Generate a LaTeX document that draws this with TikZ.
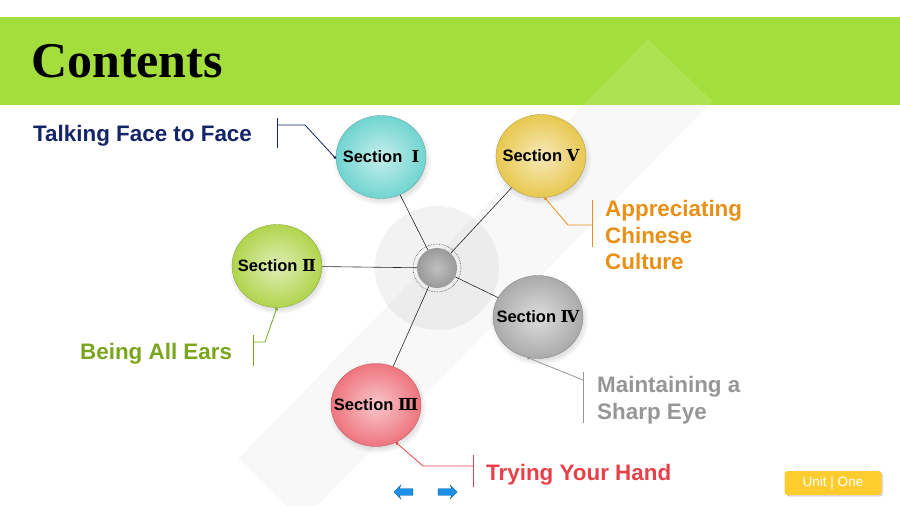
\documentclass[tikz,border=0pt]{standalone}
\usepackage{fontspec}
\setmainfont{Liberation Sans}
\newfontfamily\titulofont{Liberation Serif}
\newfontfamily\romanofont{DejaVu Serif}
\usetikzlibrary{positioning,arrows.meta,shapes.geometric,shapes.arrows,shadows}
\definecolor{verdebarra}{RGB}{164,222,60}
\definecolor{marino}{RGB}{20,36,104}
\definecolor{oliva}{RGB}{122,166,30}
\definecolor{naranja}{RGB}{232,144,22}
\definecolor{gristexto}{RGB}{150,150,150}
\definecolor{rojo}{RGB}{232,64,72}
\definecolor{turquesa}{RGB}{112,212,208}
\definecolor{oro}{RGB}{232,200,80}
\definecolor{lima}{RGB}{176,212,76}
\definecolor{plata}{RGB}{170,170,170}
\definecolor{rosa}{RGB}{238,116,126}
\definecolor{amarillo}{RGB}{255,204,48}
\definecolor{azul}{RGB}{28,144,230}
\newcommand{\rotulo}[1]{\makebox[0pt]{Section #1}}

\begin{document}
\begin{tikzpicture}[x=1pt, y=-1pt,
  seccion/.style={ellipse, draw=#1!75!black, line width=0.3pt,
    shading=radial, inner color=#1!40!white, outer color=#1,
    minimum width=90pt, minimum height=83pt, inner sep=0pt,
    font=\bfseries\fontsize{16.5}{16.5}\selectfont,
    circular drop shadow={shadow xshift=1pt, shadow yshift=-2.5pt, opacity=0.25}},
  etiqueta/.style={anchor=west, inner sep=0pt, align=left, text=#1,
    font=\bfseries\fontsize{22.4}{26.5}\selectfont},
  guia/.style={draw=#1, line width=0.8pt},
  radio/.style={draw=black!85, line width=0.6pt},
  flechita/.style={single arrow, fill=azul, draw=azul!70!black, line width=0.3pt,
    minimum height=19pt, minimum width=14pt, single arrow head extend=3pt,
    single arrow head indent=1.5pt, inner sep=2.5pt, shape border rotate=#1},
]
  \useasboundingbox (0,0) rectangle (900,506);
  % Trazo de fondo
  \fill[gray, opacity=0.06] (238,459) -- (302,521) -- (712,101) -- (648,39) -- cycle;
  % Barra del titulo
  \fill[verdebarra] (0,17) rectangle (900,105);
  \begin{scope}
    \clip (0,17) rectangle (900,105);
    \fill[white, opacity=0.12] (238,459) -- (302,521) -- (712,101) -- (648,39) -- cycle;
  \end{scope}
  \node[anchor=west, inner sep=0pt, font=\titulofont\bfseries\fontsize{50}{50}\selectfont]
    (titulo) at (31,61) {Contents};
  % Centro
  \fill[gray, opacity=0.1] (437,268) circle[radius=62];
  \node[circle, minimum size=40pt, inner sep=0pt, shading=radial,
    inner color=gray!50, outer color=gray!80] (cen) at (437,268) {};
  \draw[densely dotted, line width=0.6pt, black!70] (cen) circle[radius=24];
  % Secciones
  \node[seccion=turquesa] (s1) at (381,157) {\rotulo{\ {\romanofont Ⅰ}}};
  \node[seccion=lima] (s2) at (277,266) {\rotulo{{\romanofont Ⅱ}}};
  \node[seccion=rosa] (s3) at (376,405) {\rotulo{{\romanofont Ⅲ}}};
  \node[seccion=plata] (s4) at (538,317) {\rotulo{{\romanofont Ⅳ}}};
  \node[seccion=oro] (s5) at (541,156) {\rotulo{{\romanofont Ⅴ}}};
  % Lineas del centro
  \foreach \s in {s1, s2, s3, s4, s5}
    \draw[radio] (cen) -- (\s);
  % Titulos de seccion
  \node[etiqueta=marino] (t1) at (33,136) {Talking Face to Face};
  \node[etiqueta=oliva] (t2) at (80,354) {Being All Ears};
  \node[etiqueta=rojo] (t3) at (486,475) {Trying Your Hand};
  \node[etiqueta=gristexto] (t4) at (597,400) {Maintaining a\\Sharp Eye};
  \node[etiqueta=naranja] (t5) at (605,235) {Appreciating\\Chinese\\Culture};
  % Llamadas
  \coordinate (c1) at (277,125);
  \coordinate (c2) at (253,342);
  \coordinate (c3) at (473,466);
  \coordinate (c4) at (583,380);
  \coordinate (c5) at (592,225);
  \draw[guia=marino, {Circle[length=3pt]}-] (s1.182) -- (305,125) -- (c1);
  \draw[guia=marino] (277,118) -- (277,148);
  \draw[guia=oliva, {Circle[length=3pt]}-] (s2.south) -- (265,342) -- (c2);
  \draw[guia=oliva] (253,335) -- (253,366);
  \draw[guia=rojo, {Circle[length=3pt]}-] (s3.-62) -- (423,466) -- (c3);
  \draw[guia=rojo] (473,455) -- (473,487);
  \draw[guia=gristexto, {Circle[length=3pt]}-] (s4.255) -- (c4);
  \draw[guia=gristexto] (583,372) -- (583,423);
  \draw[guia=naranja, {Circle[length=3pt]}-] (s5.275) -- (568,225) -- (c5);
  \draw[guia=naranja] (592,200) -- (592,247);
  % Navegacion
  \node[flechita=180] (atras) at (405,492) {};
  \node[flechita=0] (adelante) at (446,492) {};
  \node[rounded corners=3pt, fill=amarillo, minimum width=97pt, minimum height=24pt,
    text=white, font=\fontsize{13.5}{13.5}\selectfont,
    drop shadow={shadow xshift=1.5pt, shadow yshift=-1.5pt, opacity=0.3}]
    (unidad) at (833,483) {Unit | One};
\end{tikzpicture}
\end{document}
